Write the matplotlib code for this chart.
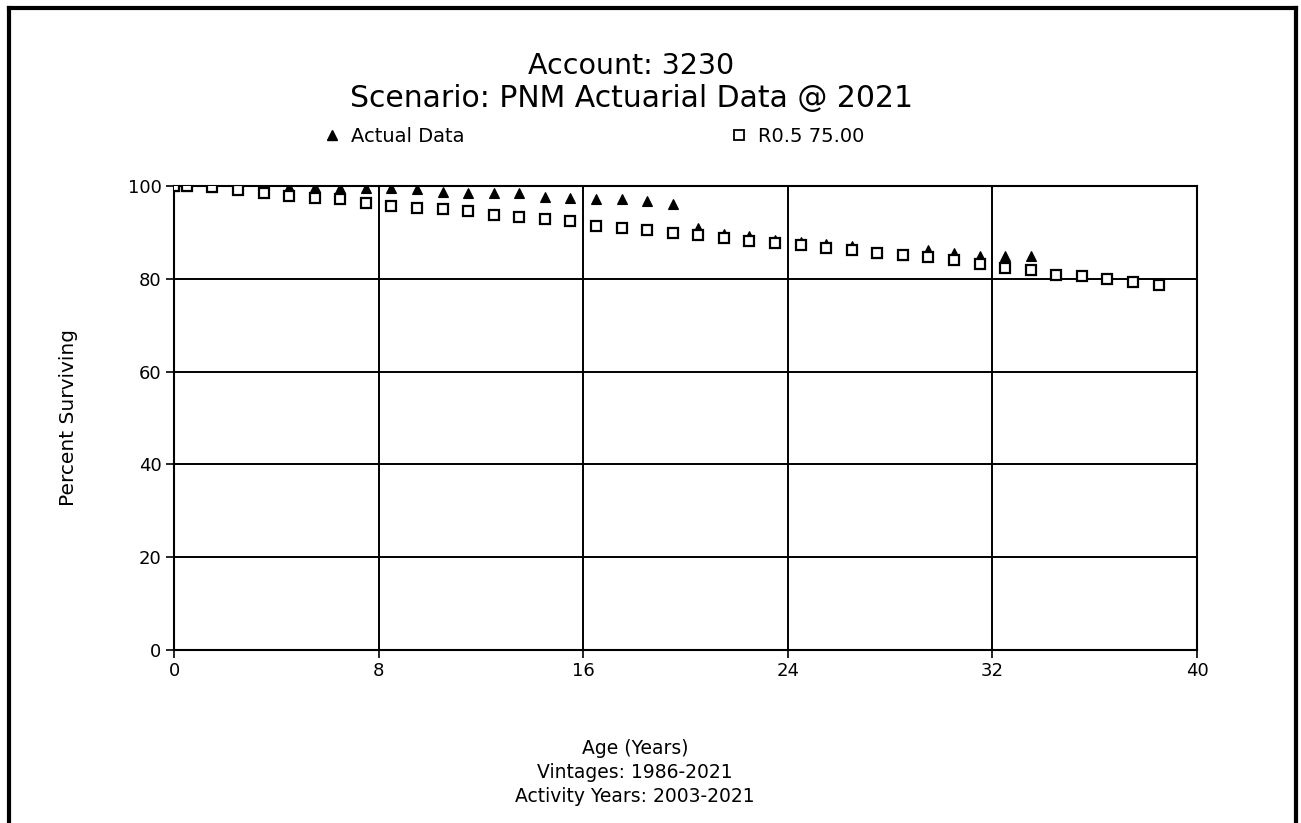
import matplotlib
matplotlib.use("Agg")
import matplotlib.pyplot as plt
from matplotlib.lines import Line2D

plt.rcParams['font.family'] = ['DejaVu Sans']

# ---- data ----
title_lines = ["Account: 3230", "Scenario: PNM Actuarial Data @ 2021"]
actual_label = "Actual Data"
curve_label = "R0.5 75.00"

curve_age = [0, 0.5, 1.5, 2.5, 3.5, 4.5, 5.5, 6.5, 7.5, 8.5, 9.5, 10.5, 11.5, 12.5,
             13.5, 14.5, 15.5, 16.5, 17.5, 18.5, 19.5, 20.5, 21.5, 22.5, 23.5, 24.5,
             25.5, 26.5, 27.5, 28.5, 29.5, 30.5, 31.5, 32.5, 33.5, 34.5, 35.5, 36.5,
             37.5, 38.5]
curve_pct = [100.0, 100.0, 99.7, 99.1, 98.4, 97.8, 97.5, 97.1, 96.3, 95.6, 95.3, 95.0,
             94.6, 93.8, 93.3, 92.8, 92.4, 91.3, 91.0, 90.6, 89.8, 89.4, 88.8, 88.2,
             87.7, 87.3, 86.6, 86.1, 85.6, 85.1, 84.6, 84.0, 83.2, 82.3, 81.8, 80.9,
             80.6, 79.9, 79.4, 78.6]

actual_age = [0, 0.5, 1.5, 2.5, 3.5, 4.5, 5.5, 6.5, 7.5, 8.5, 9.5, 10.5, 11.5, 12.5,
              13.5, 14.5, 15.5, 16.5, 17.5, 18.5, 19.5, 20.5, 21.5, 22.5, 23.5, 24.5,
              25.5, 26.5, 27.5, 28.5, 29.5, 30.5, 31.5, 32.5, 33.5]
actual_pct = [100.0, 100.0, 99.7, 99.9, 99.9, 99.8, 99.7, 99.6, 99.5, 99.5, 99.4, 98.8,
              98.4, 98.4, 98.4, 97.6, 97.5, 97.2, 97.1, 96.7, 96.2, 91.0, 89.7, 89.3,
              88.3, 88.0, 87.5, 87.1, 85.6, 85.1, 86.1, 85.6, 85.0, 85.0, 84.9]

x_ticks = [0, 8, 16, 24, 32, 40]
y_ticks = [0, 20, 40, 60, 80, 100]
x_label = "Age (Years)"
x_sub = ["Vintages: 1986-2021", "Activity Years: 2003-2021"]
y_label = "Percent Surviving"

# ---- figure ----
W, H = 1301, 823
fig = plt.figure(figsize=(W / 100, H / 100), dpi=100)
fig.patch.set_facecolor('white')

left, right, top, bottom = 174, 1197, 186, 650
ax = fig.add_axes([left / W, 1 - bottom / H, (right - left) / W, (bottom - top) / H])
ax.set_xlim(0, 40)
ax.set_ylim(0, 100)
ax.set_xticks(x_ticks)
ax.set_yticks(y_ticks)
ax.tick_params(direction='out', length=6, width=1.2, colors='black', labelsize=13, pad=3)
for s in ax.spines.values():
    s.set_linewidth(1.5)
    s.set_color('black')
    s.set_zorder(1)
ax.grid(True, color='black', linewidth=1.4, zorder=1)
ax.set_axisbelow(True)

ax.plot(actual_age, actual_pct, linestyle='none', marker='^', markersize=7.5,
        color='black', markeredgewidth=0.8, zorder=3, label=actual_label)
ax.plot(curve_age, curve_pct, linestyle='none', marker='s', markersize=7.0,
        markerfacecolor='white', markeredgecolor='black', markeredgewidth=1.6,
        zorder=4, label=curve_label)

ax.set_ylabel(y_label, fontsize=14.5, labelpad=36)

# titles
cx_title = 631 / W
fig.text(cx_title, 1 - 66 / H, title_lines[0], ha='center', va='center', fontsize=20.5)
fig.text(cx_title, 1 - 98 / H, title_lines[1], ha='center', va='center', fontsize=21.5)

# legend
h1 = Line2D([], [], linestyle='none', marker='^', markersize=7, color='black')
h2 = Line2D([], [], linestyle='none', marker='s', markersize=6.5,
            markerfacecolor='white', markeredgecolor='black', markeredgewidth=1.3)
fig.legend([h1], [actual_label], loc='center left', bbox_to_anchor=(322 / W, 1 - 136 / H),
           frameon=False, fontsize=14, handlelength=1.0, handletextpad=0.5,
           borderaxespad=0, borderpad=0)
fig.legend([h2], [curve_label], loc='center left', bbox_to_anchor=(729 / W, 1 - 136 / H),
           frameon=False, fontsize=14, handlelength=1.0, handletextpad=0.5,
           borderaxespad=0, borderpad=0)

# x-axis captions
cx = 635 / W
fig.text(cx, 1 - 748 / H, x_label, ha='center', va='center', fontsize=13.5)
fig.text(cx, 1 - 772 / H, x_sub[0], ha='center', va='center', fontsize=13.5)
fig.text(cx, 1 - 796 / H, x_sub[1], ha='center', va='center', fontsize=13.5)

# outer frame (left, top, right)
lw = 3
fig.add_artist(Line2D([9 / W, 9 / W], [0, 1 - 8 / H], color='black', linewidth=lw, transform=fig.transFigure))
fig.add_artist(Line2D([9 / W, 1296 / W], [1 - 8 / H, 1 - 8 / H], color='black', linewidth=lw, transform=fig.transFigure))
fig.add_artist(Line2D([1296 / W, 1296 / W], [0, 1 - 8 / H], color='black', linewidth=lw, transform=fig.transFigure))

fig.savefig("out.png", dpi=100)
